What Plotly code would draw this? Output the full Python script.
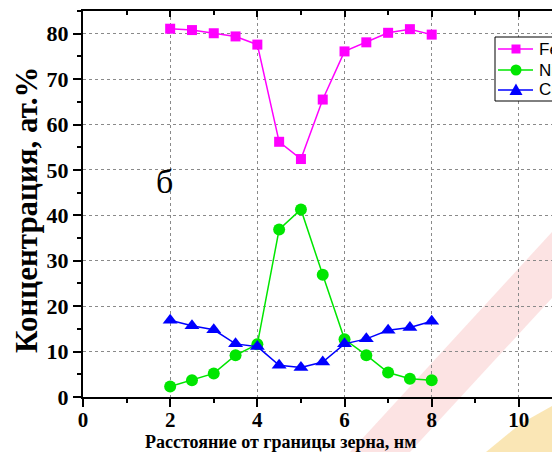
import plotly.graph_objects as go

# Distance from the grain boundary, nm
distance = [2, 2.5, 3, 3.5, 4, 4.5, 5, 5.5, 6, 6.5, 7, 7.5, 8]

# Concentration profiles, at.%
fe = [81.1, 80.8, 80.1, 79.4, 77.6, 56.2, 52.4, 65.5, 76.1, 78.1, 80.2, 81.0, 79.8]
ni = [2.3, 3.7, 5.2, 9.2, 11.6, 36.9, 41.3, 26.9, 12.7, 9.2, 5.4, 4.0, 3.7]
cr = [16.9, 15.7, 14.8, 11.7, 11.1, 7.0, 6.5, 7.7, 11.7, 12.8, 14.7, 15.3, 16.7]

series_names = ["Fe", "Ni", "Cr"]
series_colors = ["#ff00ff", "#00e600", "#0000ff"]

x_ticks = [0, 2, 4, 6, 8, 10]
y_ticks = [0, 10, 20, 30, 40, 50, 60, 70, 80]

SERIF = "Liberation Serif, Times New Roman, serif"
SANS = "Liberation Sans, Arial, sans-serif"

# plot-area geometry in pixels
W, H = 552, 452
L, T, B = 83, 11, 55
PW, PH = W - L, H - T - B


def px(xp):
    return (xp - L) / PW


def py(yp):
    return (H - B - yp) / PH


fig = go.Figure()

symbols = ["square", "circle", "triangle-up"]
sizes = [10, 12, 13]
for name, vals, color, sym, size in zip(series_names, [fe, ni, cr], series_colors, symbols, sizes):
    fig.add_trace(go.Scatter(
        x=distance, y=vals, name=name, mode="lines+markers",
        line=dict(color=color, width=1.5),
        marker=dict(symbol=sym, size=size, color=color),
        showlegend=False,
    ))

grid = dict(showgrid=True, gridcolor="#8a8a8a", gridwidth=1, griddash="3px,3px")

fig.update_layout(
    width=W, height=H,
    margin=dict(l=L, r=0, t=T, b=B, autoexpand=False),
    paper_bgcolor="white",
    plot_bgcolor="rgba(0,0,0,0)",
    showlegend=False,
    xaxis=dict(
        range=[0, 10.76], tickvals=x_ticks,
        showline=True, linecolor="black", linewidth=2,
        ticks="outside", ticklen=8, tickwidth=1.5, tickcolor="black",
        ticklabelstandoff=-5,
        minor=dict(dtick=1, tick0=0, ticks="outside", ticklen=4, tickwidth=1.5,
                   tickcolor="black", showgrid=False),
        tickfont=dict(family=SERIF, size=21, color="black", weight="bold"),
        zeroline=False, **grid,
    ),
    xaxis2=dict(
        overlaying="x", matches="x", side="top", range=[0, 10.76],
        tickvals=x_ticks, showticklabels=False, showgrid=False,
        showline=True, linecolor="black", linewidth=2,
        ticks="inside", ticklen=6, tickwidth=1.5, tickcolor="black",
        minor=dict(dtick=1, tick0=0, ticks="inside", ticklen=4, tickwidth=1.5,
                   tickcolor="black", showgrid=False),
        zeroline=False,
    ),
    yaxis=dict(
        range=[0, 85], tickvals=y_ticks,
        showline=True, linecolor="black", linewidth=2,
        ticks="outside", ticklen=8, tickwidth=1.5, tickcolor="black",
        minor=dict(dtick=5, tick0=0, ticks="outside", ticklen=4, tickwidth=1.5,
                   tickcolor="black", showgrid=False),
        tickfont=dict(family=SERIF, size=22, color="black", weight="bold"),
        zeroline=False, **grid,
    ),
)

# invisible trace to activate the top axis
fig.add_trace(go.Scatter(x=[0], y=[0], xaxis="x2", mode="markers",
                         marker=dict(opacity=0), showlegend=False, hoverinfo="skip"))

# axis titles and panel letter
fig.add_annotation(
    text="Концентрация, ат.%", xref="paper", yref="paper",
    x=px(26), y=py(210), xanchor="center", yanchor="middle", textangle=-90,
    showarrow=False, font=dict(family=SERIF, size=31, color="black", weight="bold"),
)
fig.add_annotation(
    text="Расстояние от границы зерна, нм", xref="paper", yref="paper",
    x=px(280), y=py(442), xanchor="center", yanchor="middle",
    showarrow=False, font=dict(family=SERIF, size=18, color="black", weight="bold"),
)
fig.add_annotation(
    text="б", xref="x", yref="y", x=1.86, y=47.5,
    xanchor="center", yanchor="middle", showarrow=False,
    font=dict(family=SERIF, size=34, color="black"),
)


def poly(points):
    pts = [(px(a), py(b)) for a, b in points]
    return "M " + " L ".join(f"{a:.4f},{b:.4f}" for a, b in pts) + " Z"


# faint background emblem in the lower right corner
fig.add_shape(type="path", xref="paper", yref="paper", layer="below",
              path=poly([(350, 452), (552, 232), (552, 298), (410, 452)]),
              fillcolor="#e84040", opacity=0.15, line=dict(width=0))
fig.add_shape(type="path", xref="paper", yref="paper", layer="below",
              path=poly([(486, 452), (520, 424), (552, 406), (552, 452)]),
              fillcolor="#f2b82a", opacity=0.35, line=dict(width=0))

# legend box in the upper right corner (runs past the right edge)
fig.add_shape(type="rect", xref="paper", yref="paper",
              x0=px(495), x1=px(600), y0=py(101), y1=py(37),
              fillcolor="white", line=dict(color="black", width=1))
rows = [49, 70, 90]
for name, color, sym, row in zip(series_names, series_colors, symbols, rows):
    fig.add_shape(type="line", xref="paper", yref="paper",
                  x0=px(498), x1=px(533), y0=py(row), y1=py(row),
                  line=dict(color=color, width=1.5))
    cx = 516
    if sym == "square":
        fig.add_shape(type="rect", xref="paper", yref="paper",
                      x0=px(cx - 4.5), x1=px(cx + 4.5), y0=py(row + 4.5), y1=py(row - 4.5),
                      fillcolor=color, line=dict(width=0))
    elif sym == "circle":
        fig.add_shape(type="circle", xref="paper", yref="paper",
                      x0=px(cx - 5.5), x1=px(cx + 5.5), y0=py(row + 5.5), y1=py(row - 5.5),
                      fillcolor=color, line=dict(width=0))
    else:
        fig.add_shape(type="path", xref="paper", yref="paper",
                      path=poly([(cx - 6.5, row + 5), (cx + 6.5, row + 5), (cx, row - 6.5)]),
                      fillcolor=color, line=dict(width=0))
    fig.add_annotation(text=name, xref="paper", yref="paper",
                       x=px(537), y=py(row), xanchor="left", yanchor="middle",
                       showarrow=False,
                       font=dict(family=SANS, size=17, color="black"))

fig.write_html("out.html")
